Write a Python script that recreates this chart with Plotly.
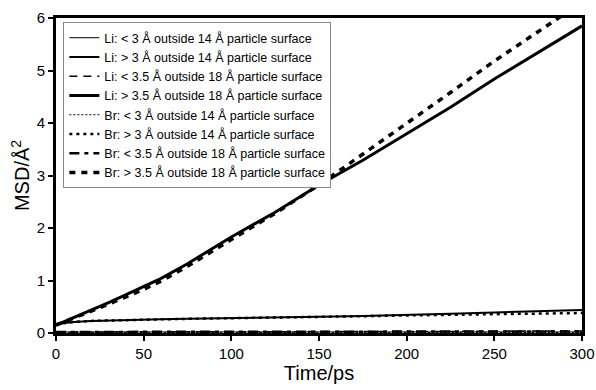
import plotly.graph_objects as go

# Time axis (ps)
t = [0, 10, 20, 30, 40, 50, 60, 75, 100, 125, 150, 175, 200, 225, 250, 275, 300]

# MSD values (Å^2)
li_lt3_14 = [0.02, 0.02, 0.02, 0.02, 0.02, 0.02, 0.02, 0.02, 0.02, 0.02, 0.02, 0.02, 0.02, 0.02, 0.02, 0.02, 0.02]
li_gt3_14 = [0.17, 0.21, 0.23, 0.24, 0.25, 0.26, 0.26, 0.27, 0.28, 0.295, 0.31, 0.325, 0.34, 0.365, 0.39, 0.415, 0.44]
li_lt35_18 = [0.02, 0.02, 0.02, 0.02, 0.02, 0.02, 0.02, 0.02, 0.02, 0.02, 0.02, 0.025, 0.03, 0.03, 0.035, 0.04, 0.04]
li_gt35_18 = [0.15, 0.29, 0.43, 0.58, 0.73, 0.88, 1.04, 1.32, 1.83, 2.30, 2.82, 3.29, 3.80, 4.30, 4.84, 5.35, 5.85]
br_lt3_14 = [0.01, 0.01, 0.01, 0.01, 0.01, 0.01, 0.01, 0.01, 0.01, 0.01, 0.01, 0.01, 0.01, 0.01, 0.01, 0.01, 0.01]
br_gt3_14 = [0.17, 0.21, 0.23, 0.24, 0.25, 0.26, 0.26, 0.27, 0.28, 0.295, 0.31, 0.32, 0.335, 0.35, 0.36, 0.37, 0.38]
br_lt35_18 = [0.02, 0.02, 0.02, 0.02, 0.02, 0.02, 0.02, 0.02, 0.02, 0.02, 0.02, 0.02, 0.025, 0.025, 0.03, 0.03, 0.03]
br_gt35_18 = [0.15, 0.28, 0.41, 0.55, 0.69, 0.83, 0.99, 1.27, 1.78, 2.28, 2.82, 3.40, 4.00, 4.58, 5.18, 5.75, 6.30]

labels = [
    "Li: < 3 Å outside 14 Å particle surface",
    "Li: > 3 Å outside 14 Å particle surface",
    "Li: < 3.5 Å outside 18 Å particle surface",
    "Li: > 3.5 Å outside 18 Å particle surface",
    "Br: < 3 Å outside 14 Å particle surface",
    "Br: > 3 Å outside 14 Å particle surface",
    "Br: < 3.5 Å outside 18 Å particle surface",
    "Br: > 3.5 Å outside 18 Å particle surface",
]
series = [li_lt3_14, li_gt3_14, li_lt35_18, li_gt35_18, br_lt3_14, br_gt3_14, br_lt35_18, br_gt35_18]
styles = [
    dict(width=1, dash="solid"),
    dict(width=2, dash="solid"),
    dict(width=1.5, dash="8px,6px"),
    dict(width=3, dash="solid"),
    dict(width=1, dash="2px,2px"),
    dict(width=2.5, dash="3px,4px"),
    dict(width=2.5, dash="10px,5px,4px,5px"),
    dict(width=3.5, dash="6px,6px"),
]

fig = go.Figure()
for i, (lab, ys, st) in enumerate(zip(labels, series, styles)):
    fig.add_trace(go.Scatter(
        x=t, y=ys, mode="lines", name=lab,
        line=dict(color="black", width=st["width"], dash=st["dash"]),
        legendgroup=f"g{i}",
    ))

axis_common = dict(
    showline=True, linecolor="black", linewidth=3, mirror=True,
    ticks="outside", ticklen=5, tickwidth=2, tickcolor="black",
    showgrid=False, zeroline=False, automargin=False,
    tickfont=dict(family="Liberation Sans, Arial, sans-serif", size=15, color="black"),
)

fig.update_layout(
    width=596, height=390,
    margin=dict(l=56, r=14, t=18, b=57, autoexpand=False),
    plot_bgcolor="white", paper_bgcolor="white",
    font=dict(family="Liberation Sans, Arial, sans-serif", color="black"),
    xaxis=dict(range=[0, 300], tickvals=[0, 50, 100, 150, 200, 250, 300],
               title=dict(text="Time/ps", font=dict(size=20), standoff=4), **axis_common),
    yaxis=dict(range=[0, 6], tickvals=[0, 1, 2, 3, 4, 5, 6],
               title=dict(text="MSD/Å<sup>2</sup>", font=dict(size=20), standoff=2), **axis_common),
    legend=dict(
        x=0.014, y=0.987, xanchor="left", yanchor="top",
        bgcolor="white", bordercolor="#888888", borderwidth=1,
        font=dict(size=12.5, color="black"),
        tracegroupgap=0, itemwidth=30,
    ),
)

fig.write_html("out.html", config={"displayModeBar": False},
               post_script="document.body.style.margin='0';document.body.style.overflow='hidden';")
